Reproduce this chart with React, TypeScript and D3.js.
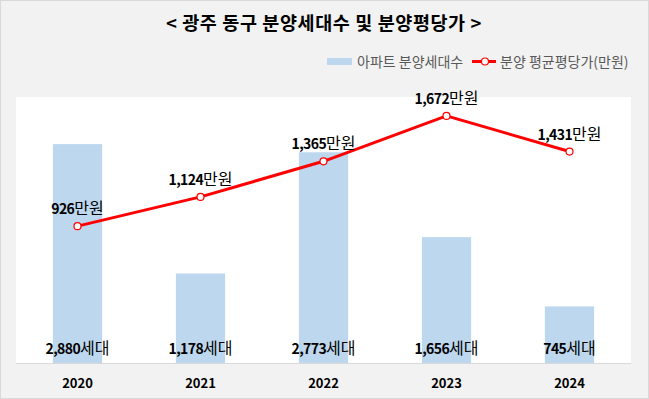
import { useEffect, useRef } from "react"
import * as d3 from "d3"

const years = ["2020", "2021", "2022", "2023", "2024"]
const households = [2880, 1178, 2773, 1656, 745]
const avgPrice = [926, 1124, 1365, 1672, 1431]

const title = "< 광주 동구 분양세대수 및 분양평당가 >"
const barName = "아파트 분양세대수"
const lineName = "분양 평균평당가(만원)"

const W = 649
const H = 399
const FONT = "'Noto Sans CJK KR', 'Noto Sans', sans-serif"

const App = () => {
  const svgRef = useRef<SVGSVGElement | null>(null)

  useEffect(() => {
    const svg = d3.select(svgRef.current)
    svg.selectAll("*").remove()

    const plot = { left: 16, right: 631, top: 97, bottom: 363 }

    // background + border
    svg
      .append("rect")
      .attr("x", 0.5)
      .attr("y", 0.5)
      .attr("width", W - 1)
      .attr("height", H - 1)
      .attr("fill", "#f2f2f2")
      .attr("stroke", "#d9d9d9")

    svg
      .append("rect")
      .attr("x", plot.left)
      .attr("y", plot.top)
      .attr("width", plot.right - plot.left)
      .attr("height", plot.bottom - plot.top)
      .attr("fill", "#ffffff")

    const x = d3
      .scaleBand()
      .domain(years)
      .range([plot.left, plot.right])
      .paddingInner(0)

    const yBar = d3.scaleLinear().domain([0, 3500]).range([plot.bottom, plot.top])
    const yLine = d3.scaleLinear().domain([0, 1800]).range([plot.bottom, plot.top])

    const barW = x.bandwidth() / 2.5
    const cx = (i: number) => (x(years[i]) || 0) + x.bandwidth() / 2

    // bars
    svg
      .selectAll(".bar")
      .data(households)
      .enter()
      .append("rect")
      .attr("class", "bar")
      .attr("x", (_, i) => cx(i) - barW / 2)
      .attr("y", (d) => yBar(d))
      .attr("width", barW)
      .attr("height", (d) => yBar(0) - yBar(d))
      .attr("fill", "#bdd7ee")

    // bottom axis line
    svg
      .append("line")
      .attr("x1", plot.left)
      .attr("x2", plot.right)
      .attr("y1", plot.bottom + 0.5)
      .attr("y2", plot.bottom + 0.5)
      .attr("stroke", "#d9d9d9")
      .attr("stroke-width", 1)

    // year labels
    svg
      .selectAll(".year")
      .data(years)
      .enter()
      .append("text")
      .attr("x", (_, i) => cx(i))
      .attr("y", 388)
      .attr("text-anchor", "middle")
      .attr("font-family", FONT)
      .attr("font-weight", "bold")
      .attr("font-size", 13)
      .attr("fill", "#000")
      .text((d) => d)

    // bar labels
    const barLabels = svg
      .selectAll(".blabel")
      .data(households)
      .enter()
      .append("text")
      .attr("x", (_, i) => cx(i))
      .attr("y", 354)
      .attr("text-anchor", "middle")
      .attr("font-family", FONT)
      .attr("fill", "#000")
    barLabels
      .append("tspan")
      .attr("font-weight", "bold")
      .attr("font-size", 14)
      .attr("letter-spacing", -0.6)
      .text((d) => d3.format(",")(d))
    barLabels.append("tspan").attr("font-size", 16).text("세대")

    // line
    const line = d3
      .line<number>()
      .x((_, i) => cx(i))
      .y((d) => yLine(d))

    svg
      .append("path")
      .datum(avgPrice)
      .attr("d", line)
      .attr("fill", "none")
      .attr("stroke", "#ff0000")
      .attr("stroke-width", 3)
      .attr("stroke-linejoin", "round")

    svg
      .selectAll(".pt")
      .data(avgPrice)
      .enter()
      .append("circle")
      .attr("cx", (_, i) => cx(i))
      .attr("cy", (d) => yLine(d))
      .attr("r", 3.5)
      .attr("fill", "#ffffff")
      .attr("stroke", "#ff0000")
      .attr("stroke-width", 1.2)

    const lineLabels = svg
      .selectAll(".llabel")
      .data(avgPrice)
      .enter()
      .append("text")
      .attr("x", (_, i) => cx(i))
      .attr("y", (d) => yLine(d) - 12)
      .attr("text-anchor", "middle")
      .attr("font-family", FONT)
      .attr("fill", "#000")
    lineLabels
      .append("tspan")
      .attr("font-weight", "bold")
      .attr("font-size", 14)
      .attr("letter-spacing", -0.6)
      .text((d) => d3.format(",")(d))
    lineLabels.append("tspan").attr("font-size", 16).text("만원")

    // title
    svg
      .append("text")
      .attr("x", 324)
      .attr("y", 30)
      .attr("text-anchor", "middle")
      .attr("font-family", FONT)
      .attr("font-weight", "bold")
      .attr("font-size", 18.5)
      .attr("letter-spacing", 0.6)
      .attr("fill", "#000")
      .text(title)

    // legend
    const lg = svg.append("g").attr("font-family", FONT).attr("font-size", 14).attr("fill", "#595959")
    lg.append("rect").attr("x", 327).attr("y", 58).attr("width", 25).attr("height", 7).attr("fill", "#bdd7ee")
    lg.append("text").attr("x", 357).attr("y", 67).text(barName)
    lg.append("line")
      .attr("x1", 472).attr("x2", 496).attr("y1", 61.5).attr("y2", 61.5)
      .attr("stroke", "#ff0000").attr("stroke-width", 3)
    lg.append("circle").attr("cx", 485).attr("cy", 61.5).attr("r", 3.5)
      .attr("fill", "#fff").attr("stroke", "#ff0000").attr("stroke-width", 1.2)
    lg.append("text").attr("x", 500).attr("y", 67).text(lineName)
  }, [])

  return (
    <svg
      ref={svgRef}
      width={W}
      height={H}
      style={{ position: "absolute", left: 0, top: 0 }}
    />
  )
}

export default App
